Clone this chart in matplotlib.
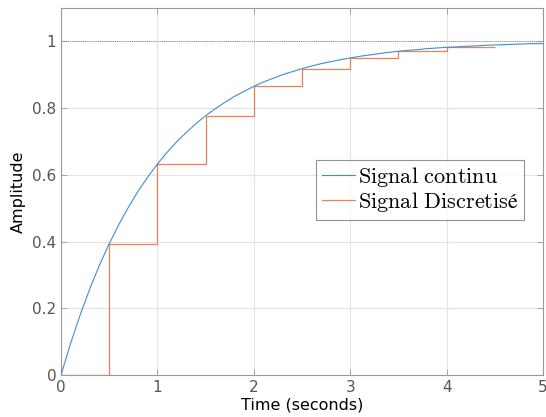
import matplotlib
matplotlib.use("Agg")
import matplotlib.pyplot as plt
import numpy as np

# continuous step response, read every 0.1 s
time_cont = np.round(np.arange(0, 5.01, 0.1), 2)
amp_cont = [0.000, 0.095, 0.181, 0.259, 0.330, 0.393, 0.451, 0.503, 0.551, 0.593,
            0.632, 0.667, 0.699, 0.727, 0.753, 0.777, 0.798, 0.817, 0.835, 0.850,
            0.865, 0.878, 0.889, 0.900, 0.909, 0.918, 0.926, 0.933, 0.939, 0.945,
            0.950, 0.955, 0.959, 0.963, 0.967, 0.970, 0.973, 0.975, 0.978, 0.980,
            0.982, 0.983, 0.985, 0.986, 0.988, 0.989, 0.990, 0.991, 0.992, 0.993,
            0.993]

# sampled (zero-order hold) signal
step_edges = [0, 0.5, 1.0, 1.5, 2.0, 2.5, 3.0, 3.5, 4.0, 4.5]
step_values = [0.000, 0.393, 0.632, 0.777, 0.865, 0.918, 0.950, 0.970, 0.982]

x_ticks = [0, 1, 2, 3, 4, 5]
y_ticks = [0, 0.2, 0.4, 0.6, 0.8, 1]

plt.rcParams["mathtext.fontset"] = "cm"

fig = plt.figure(figsize=(5.46, 4.17), dpi=100)
ax = fig.add_axes([0.1117, 0.1007, 0.8828, 0.8803])

ax.axhline(1.0, color="#8a8a8a", linestyle=(0, (1, 1.2)), linewidth=0.7, zorder=1)
ax.plot(time_cont, amp_cont, color="#3d8fd1", linewidth=0.8,
        label=r"$\mathrm{Signal\ continu}$", zorder=3)
ax.stairs(step_values, step_edges, baseline=None, color="#e8825a", linewidth=0.9,
          label=r"$\mathrm{Signal\ Discretis}\mathrm{é}$", zorder=2)

ax.set_xlim(0, 5)
ax.set_ylim(0, 1.1)
ax.set_xticks(x_ticks)
ax.set_yticks(y_ticks)
ax.set_yticklabels(["0", "0.2", "0.4", "0.6", "0.8", "1"])
ax.grid(True, color="#e3e3e3", linewidth=0.8)
ax.set_axisbelow(True)
for spine in ax.spines.values():
    spine.set_color("#9a9a9a")
    spine.set_linewidth(0.8)
ax.tick_params(direction="in", length=4, width=0.6, colors="#9a9a9a",
               labelcolor="#555555", labelsize=11, top=True, right=True)

ax.set_xlabel("Time (seconds)", fontsize=11.5, labelpad=2)
ax.set_ylabel("Amplitude", fontsize=11.5, labelpad=4)

leg = ax.legend(loc="center left", bbox_to_anchor=(0.529, 0.505), fontsize=16,
                frameon=True, fancybox=False, handlelength=1.5, handletextpad=0.12,
                borderpad=0.25, labelspacing=0.05, borderaxespad=0)
leg.get_frame().set_edgecolor("#777777")
leg.get_frame().set_linewidth(0.8)

fig.savefig("out.png", dpi=100)
